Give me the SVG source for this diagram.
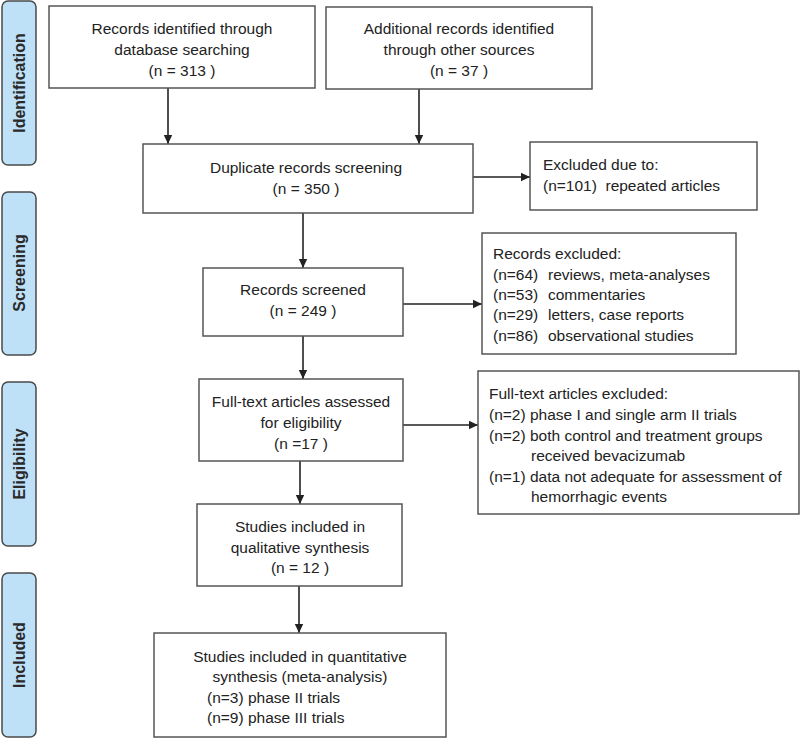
<svg xmlns="http://www.w3.org/2000/svg" width="800" height="739" viewBox="0 0 800 739">
<style>
.box{fill:#fff;stroke:#555;stroke-width:1.5}
.tab{fill:#bfe1f8;stroke:#4a4a4a;stroke-width:1.5}
.t{font-family:"Liberation Sans",Arial,sans-serif;font-size:15.5px;fill:#222}
.c{text-anchor:middle}
.tt{font-family:"Liberation Sans",Arial,sans-serif;font-size:16px;font-weight:bold;fill:#2a2a2a;text-anchor:middle}
.con{stroke:#222;stroke-width:1.6;fill:none;marker-end:url(#ah)}
</style>
<defs>
<marker id="ah" markerWidth="10" markerHeight="10" refX="9" refY="5" orient="auto" markerUnits="userSpaceOnUse">
<path d="M0,0.8 L9,5 L0,9.2 Z" fill="#222"/>
</marker>
</defs>
<rect width="800" height="739" fill="#fff"/>

<g id="tab-identification"><rect class="tab" x="2" y="1" width="34" height="164" rx="6"/><text class="tt" transform="translate(25,83) rotate(-90)">Identification</text></g>
<g id="tab-screening"><rect class="tab" x="2" y="192" width="34" height="163" rx="6"/><text class="tt" transform="translate(25,273) rotate(-90)">Screening</text></g>
<g id="tab-eligibility"><rect class="tab" x="2" y="382" width="34" height="164" rx="6"/><text class="tt" transform="translate(25,464) rotate(-90)">Eligibility</text></g>
<g id="tab-included"><rect class="tab" x="2" y="573" width="34" height="164" rx="6"/><text class="tt" transform="translate(25,655) rotate(-90)">Included</text></g>

<g id="connectors">
<line class="con" x1="168" y1="88" x2="168" y2="144"/>
<line class="con" x1="419" y1="89" x2="419" y2="144"/>
<line class="con" x1="473" y1="177" x2="530" y2="177"/>
<line class="con" x1="303" y1="213" x2="303" y2="268"/>
<line class="con" x1="403" y1="304" x2="482" y2="304"/>
<line class="con" x1="303" y1="336" x2="303" y2="379"/>
<line class="con" x1="403" y1="425" x2="478" y2="425"/>
<line class="con" x1="300" y1="461" x2="300" y2="504"/>
<line class="con" x1="299" y1="586" x2="299" y2="633"/>
</g>

<g id="n1"><rect class="box" x="49" y="6" width="266" height="82"/>
<text class="t c" x="182" y="34">Records identified through</text>
<text class="t c" x="182" y="55">database searching</text>
<text class="t c" x="182" y="76">(n = 313 )</text></g>

<g id="n2"><rect class="box" x="326" y="7" width="266" height="82"/>
<text class="t c" x="459" y="34">Additional records identified</text>
<text class="t c" x="459" y="55">through other sources</text>
<text class="t c" x="459" y="76">(n = 37 )</text></g>

<g id="n3"><rect class="box" x="143" y="144" width="330" height="69"/>
<text class="t c" x="306" y="173">Duplicate records screening</text>
<text class="t c" x="306" y="194">(n = 350  )</text></g>

<g id="n4"><rect class="box" x="530" y="142" width="227" height="68"/>
<text class="t" x="543" y="170">Excluded due to:</text>
<text class="t" x="543" y="191" xml:space="preserve">(n=101)  repeated articles</text></g>

<g id="n5"><rect class="box" x="203" y="268" width="200" height="68"/>
<text class="t c" x="303" y="295">Records screened</text>
<text class="t c" x="303" y="316">(n = 249 )</text></g>

<g id="n6"><rect class="box" x="482" y="233" width="254" height="121"/>
<text class="t" x="493" y="259">Records excluded:</text>
<text class="t" x="493" y="280">(n=64)</text><text class="t" x="548" y="280">reviews, meta-analyses</text>
<text class="t" x="493" y="300">(n=53)</text><text class="t" x="548" y="300">commentaries</text>
<text class="t" x="493" y="320">(n=29)</text><text class="t" x="548" y="320">letters, case reports</text>
<text class="t" x="493" y="341">(n=86)</text><text class="t" x="548" y="341">observational studies</text></g>

<g id="n7"><rect class="box" x="199" y="379" width="204" height="82"/>
<text class="t c" x="301" y="407">Full-text articles assessed</text>
<text class="t c" x="301" y="428">for eligibility</text>
<text class="t c" x="301" y="449">(n =17  )</text></g>

<g id="n8"><rect class="box" x="478" y="371" width="321" height="143"/>
<text class="t" x="489" y="399">Full-text articles excluded:</text>
<text class="t" x="489" y="420">(n=2) phase I and single arm II trials</text>
<text class="t" x="489" y="441">(n=2) both control and treatment groups</text>
<text class="t" x="531" y="461">received bevacizumab</text>
<text class="t" x="489" y="482">(n=1) data not adequate for assessment of</text>
<text class="t" x="531" y="502">hemorrhagic events</text></g>

<g id="n9"><rect class="box" x="197" y="504" width="205" height="82"/>
<text class="t c" x="300" y="532">Studies included in</text>
<text class="t c" x="300" y="553">qualitative synthesis</text>
<text class="t c" x="300" y="573">(n = 12 )</text></g>

<g id="n10"><rect class="box" x="154" y="633" width="292" height="104"/>
<text class="t c" x="300" y="662">Studies included in quantitative</text>
<text class="t c" x="300" y="682">synthesis (meta-analysis)</text>
<text class="t" x="207" y="703">(n=3) phase II trials</text>
<text class="t" x="207" y="723">(n=9) phase III trials</text></g>
</svg>
